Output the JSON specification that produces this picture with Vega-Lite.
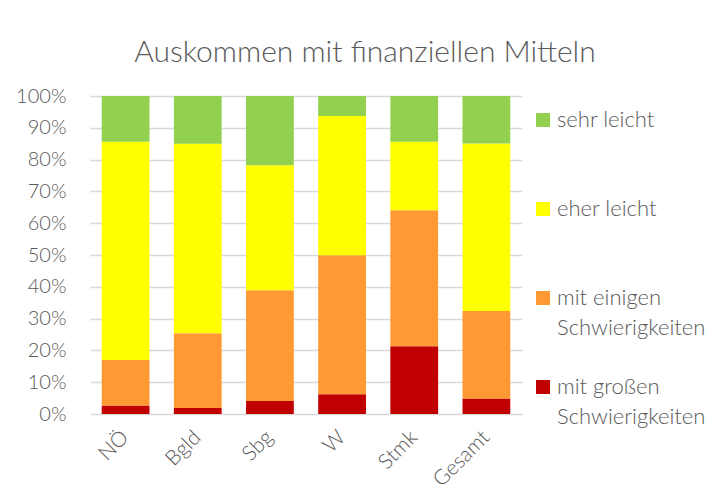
{
  "$schema": "https://vega.github.io/schema/vega-lite/v6.json",
  "width": 432,
  "height": 318,
  "autosize": {"type": "none"},
  "padding": {"left": 90, "top": 96, "right": 194, "bottom": 89},
  "background": "white",
  "title": {
    "text": "Auskommen mit finanziellen Mitteln",
    "anchor": "middle",
    "dx": 59,
    "offset": -6,
    "baseline": "alphabetic",
    "font": "Lato",
    "fontSize": 30,
    "fontWeight": 300,
    "color": "#595959"
  },
  "data": {
    "values": [
      {"region": "NÖ", "kat": "mit großen Schwierigkeiten", "k": 1, "wert": 2.7},
      {"region": "NÖ", "kat": "mit einigen Schwierigkeiten", "k": 2, "wert": 14.3},
      {"region": "NÖ", "kat": "eher leicht", "k": 3, "wert": 68.6},
      {"region": "NÖ", "kat": "sehr leicht", "k": 4, "wert": 14.4},
      {"region": "Bgld", "kat": "mit großen Schwierigkeiten", "k": 1, "wert": 1.9},
      {"region": "Bgld", "kat": "mit einigen Schwierigkeiten", "k": 2, "wert": 23.5},
      {"region": "Bgld", "kat": "eher leicht", "k": 3, "wert": 59.6},
      {"region": "Bgld", "kat": "sehr leicht", "k": 4, "wert": 15.0},
      {"region": "Sbg", "kat": "mit großen Schwierigkeiten", "k": 1, "wert": 4.1},
      {"region": "Sbg", "kat": "mit einigen Schwierigkeiten", "k": 2, "wert": 34.8},
      {"region": "Sbg", "kat": "eher leicht", "k": 3, "wert": 39.3},
      {"region": "Sbg", "kat": "sehr leicht", "k": 4, "wert": 21.8},
      {"region": "W", "kat": "mit großen Schwierigkeiten", "k": 1, "wert": 6.2},
      {"region": "W", "kat": "mit einigen Schwierigkeiten", "k": 2, "wert": 43.7},
      {"region": "W", "kat": "eher leicht", "k": 3, "wert": 43.8},
      {"region": "W", "kat": "sehr leicht", "k": 4, "wert": 6.3},
      {"region": "Stmk", "kat": "mit großen Schwierigkeiten", "k": 1, "wert": 21.3},
      {"region": "Stmk", "kat": "mit einigen Schwierigkeiten", "k": 2, "wert": 42.8},
      {"region": "Stmk", "kat": "eher leicht", "k": 3, "wert": 21.5},
      {"region": "Stmk", "kat": "sehr leicht", "k": 4, "wert": 14.4},
      {"region": "Gesamt", "kat": "mit großen Schwierigkeiten", "k": 1, "wert": 4.9},
      {"region": "Gesamt", "kat": "mit einigen Schwierigkeiten", "k": 2, "wert": 27.5},
      {"region": "Gesamt", "kat": "eher leicht", "k": 3, "wert": 52.7},
      {"region": "Gesamt", "kat": "sehr leicht", "k": 4, "wert": 14.9}
    ]
  },
  "mark": {"type": "bar"},
  "encoding": {
    "x": {
      "field": "region",
      "type": "nominal",
      "sort": ["NÖ", "Bgld", "Sbg", "W", "Stmk", "Gesamt"],
      "scale": {"paddingInner": 0.338, "paddingOuter": 0.1625},
      "axis": {
        "title": null,
        "labelAngle": -45,
        "labelAlign": "right",
        "labelBaseline": "middle",
        "labelPadding": 20,
        "labelFontSize": 21,
        "ticks": false,
        "domain": false,
        "grid": false
      }
    },
    "y": {
      "field": "wert",
      "type": "quantitative",
      "stack": "zero",
      "scale": {"domain": [0, 100], "nice": false},
      "axis": {
        "title": null,
        "values": [0, 10, 20, 30, 40, 50, 60, 70, 80, 90, 100],
        "labelExpr": "datum.value + '%'",
        "labelPadding": 24,
        "ticks": false,
        "domain": false,
        "grid": true,
        "gridColor": "#D9D9D9",
        "gridWidth": 1.5
      }
    },
    "color": {
      "field": "kat",
      "type": "nominal",
      "scale": {
        "domain": ["sehr leicht", "eher leicht", "mit einigen Schwierigkeiten", "mit großen Schwierigkeiten"],
        "range": ["#92D050", "#FFFF00", "#FF9933", "#C00000"]
      },
      "legend": {
        "title": null,
        "orient": "right",
        "offset": -3,
        "padding": 13,
        "gridAlign": "all",
        "symbolType": "square",
        "symbolSize": 196,
        "symbolStrokeWidth": 0,
        "symbolOpacity": 1,
        "labelOffset": 3,
        "rowPadding": 37,
        "labelLimit": 300,
        "labelBaseline": "middle",
        "labelExpr": "datum.label == 'mit einigen Schwierigkeiten' ? ['mit einigen', 'Schwierigkeiten'] : datum.label == 'mit großen Schwierigkeiten' ? ['mit großen', 'Schwierigkeiten'] : datum.label"
      }
    },
    "order": {"field": "k", "type": "quantitative", "sort": "ascending"}
  },
  "config": {
    "view": {"stroke": null},
    "axis": {
      "labelFont": "Lato",
      "labelFontSize": 20,
      "labelFontWeight": 300,
      "labelColor": "#595959"
    },
    "legend": {
      "labelFont": "Lato",
      "labelFontSize": 22,
      "labelFontWeight": 300,
      "labelColor": "#595959"
    },
    "style": {
      "guide-label": {"lineHeight": 30}
    }
  }
}
